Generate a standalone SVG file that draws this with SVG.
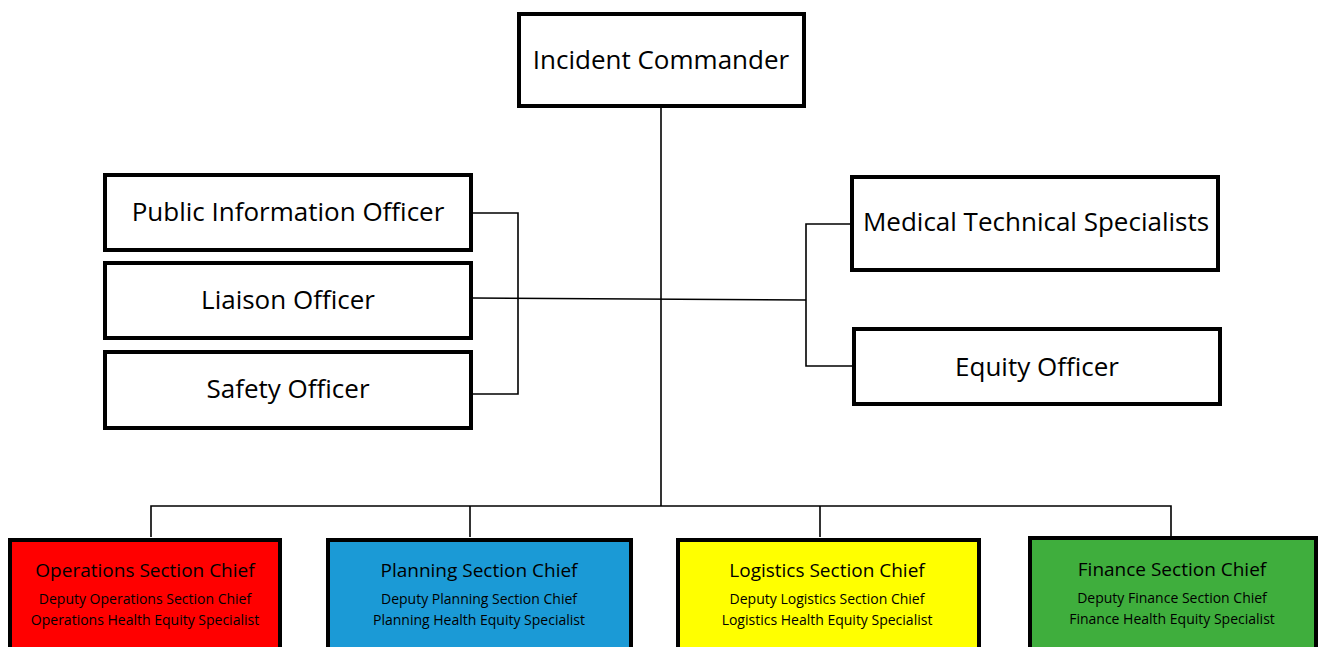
<svg xmlns="http://www.w3.org/2000/svg" width="1324" height="647" viewBox="0 0 1324 647">
<style>
.box{fill:#fff;stroke:#000;stroke-width:4}
.t{font-family:"Open Sans","Liberation Sans",sans-serif;font-size:26px;fill:#000;text-anchor:middle}
.h{font-family:"Open Sans","Liberation Sans",sans-serif;font-size:19px;fill:#000;text-anchor:middle}
.s{font-family:"Open Sans","Liberation Sans",sans-serif;font-size:14px;fill:#000;text-anchor:middle}
.c{fill:none;stroke:#000;stroke-width:1.6}
</style>
<rect width="1324" height="647" fill="#fff"/>
<g id="connectors">
<line class="c" x1="661" y1="108" x2="661" y2="506"/>
<polyline class="c" points="473,213 518,213 518,394 473,394"/>
<line class="c" x1="473" y1="298" x2="806" y2="300"/>
<polyline class="c" points="852,224 806,224 806,366 853,366"/>
<polyline class="c" points="151,537 151,506 1171,506 1171,537"/>
<line class="c" x1="470" y1="506" x2="470" y2="537"/>
<line class="c" x1="820" y1="506" x2="820" y2="537"/>
</g>
<g id="incident-commander">
<rect class="box" x="519" y="14" width="285" height="92"/>
<text class="t" x="661" y="69">Incident Commander</text>
</g>
<g id="public-information-officer">
<rect class="box" x="105" y="175" width="366" height="75"/>
<text class="t" x="288" y="221">Public Information Officer</text>
</g>
<g id="liaison-officer">
<rect class="box" x="105" y="263" width="366" height="75"/>
<text class="t" x="288" y="309">Liaison Officer</text>
</g>
<g id="safety-officer">
<rect class="box" x="105" y="352" width="366" height="76"/>
<text class="t" x="288" y="398">Safety Officer</text>
</g>
<g id="medical-technical-specialists">
<rect class="box" x="852" y="177" width="366" height="93"/>
<text class="t" x="1036" y="231">Medical Technical Specialists</text>
</g>
<g id="equity-officer">
<rect class="box" x="854" y="329" width="366" height="75"/>
<text class="t" x="1037" y="376">Equity Officer</text>
</g>
<g id="operations-section-chief">
<rect class="box" x="10" y="540" width="270" height="120" style="fill:#ff0000"/>
<text class="h" x="145" y="577">Operations Section Chief</text>
<text class="s" x="145" y="604">Deputy Operations Section Chief</text>
<text class="s" x="145" y="625">Operations Health Equity Specialist</text>
</g>
<g id="planning-section-chief">
<rect class="box" x="328" y="540" width="303" height="120" style="fill:#1b9ad6"/>
<text class="h" x="479" y="577">Planning Section Chief</text>
<text class="s" x="479" y="604">Deputy Planning Section Chief</text>
<text class="s" x="479" y="625">Planning Health Equity Specialist</text>
</g>
<g id="logistics-section-chief">
<rect class="box" x="678" y="540" width="301" height="120" style="fill:#ffff00"/>
<text class="h" x="827" y="577">Logistics Section Chief</text>
<text class="s" x="827" y="604">Deputy Logistics Section Chief</text>
<text class="s" x="827" y="625">Logistics Health Equity Specialist</text>
</g>
<g id="finance-section-chief">
<rect class="box" x="1030" y="538" width="286" height="120" style="fill:#3fae3d"/>
<text class="h" x="1172" y="576">Finance Section Chief</text>
<text class="s" x="1172" y="603">Deputy Finance Section Chief</text>
<text class="s" x="1172" y="624">Finance Health Equity Specialist</text>
</g>
</svg>
